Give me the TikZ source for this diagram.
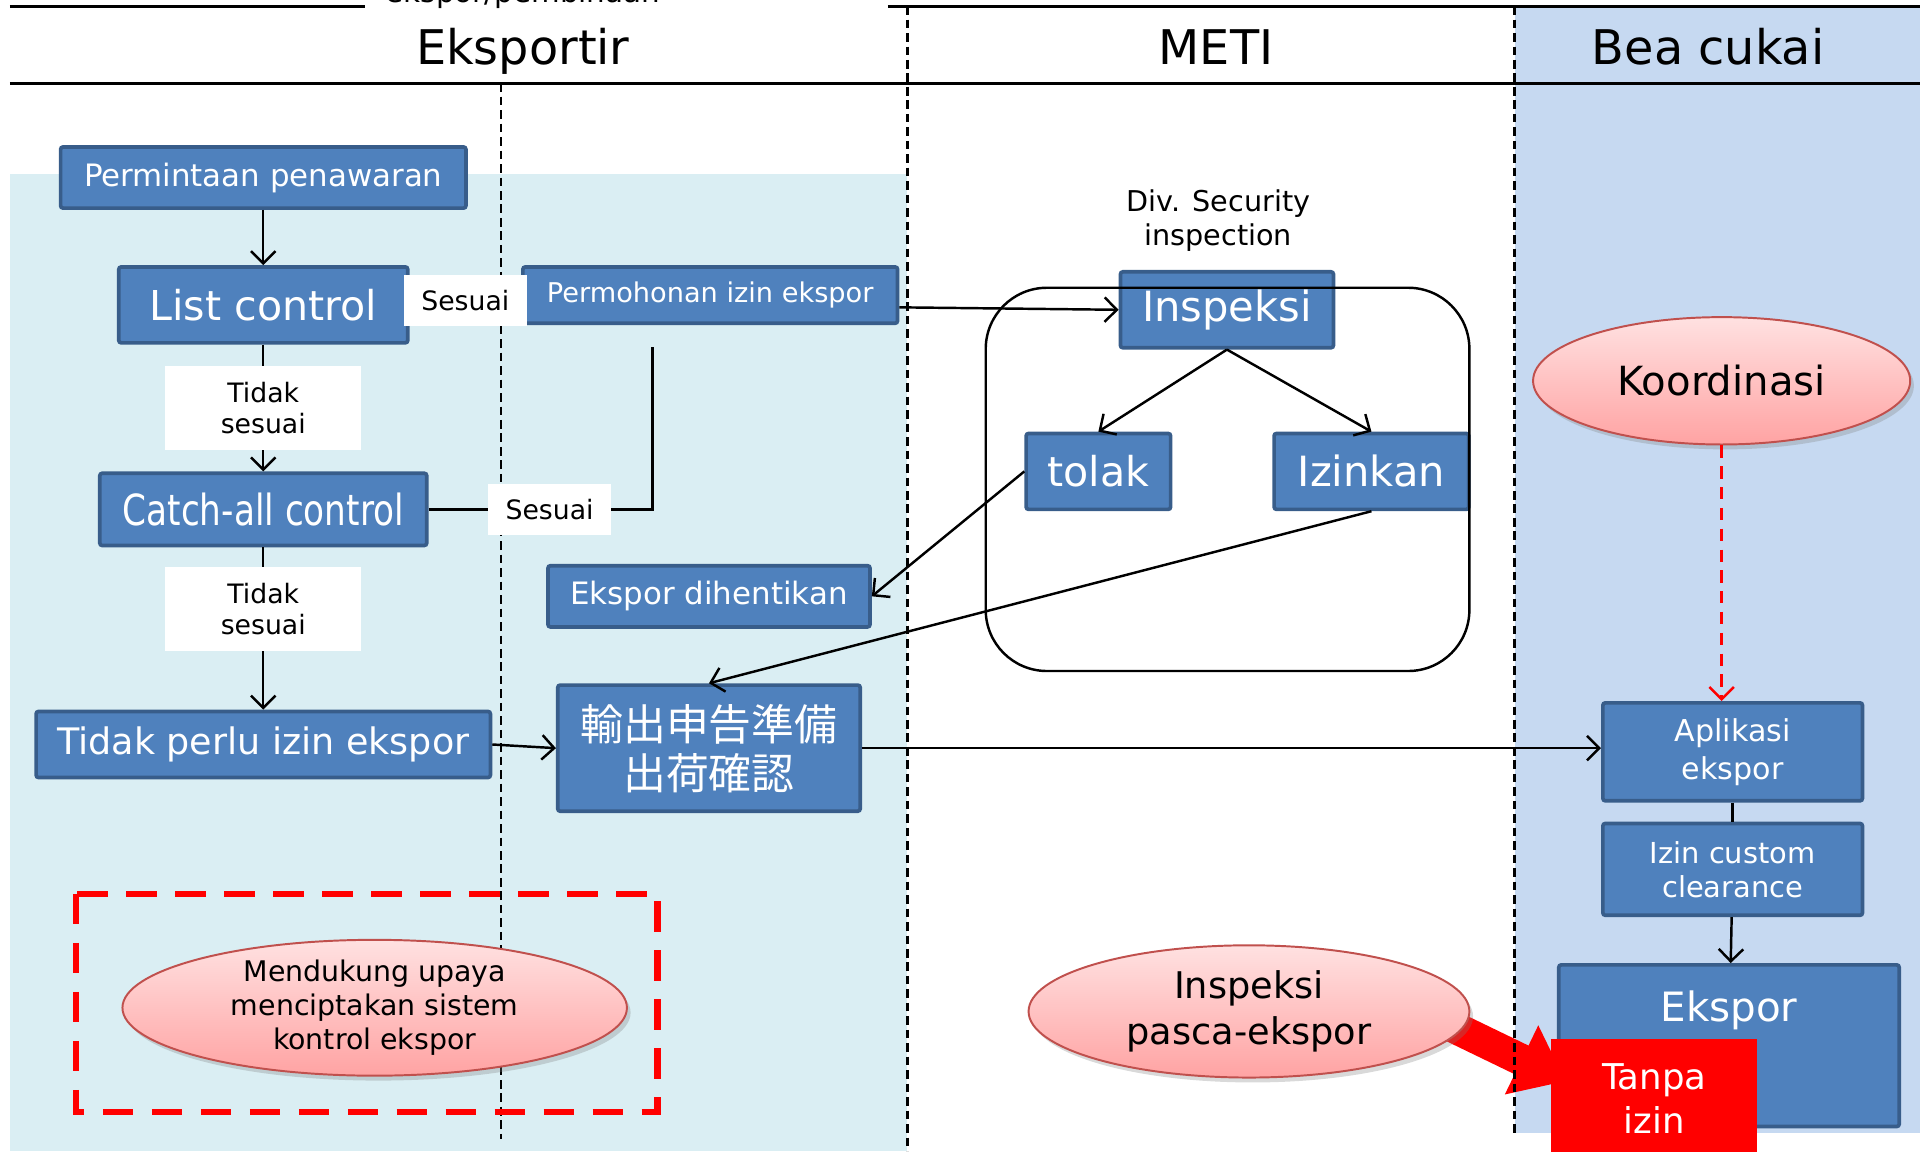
\documentclass[tikz,border=0pt]{standalone}
\usepackage{fontspec}
\setmainfont{DejaVu Sans}
\newfontfamily\condfont[FakeStretch=0.8]{DejaVu Sans}
\newfontfamily\cjkfont{Noto Sans CJK JP}
\usetikzlibrary{arrows.meta,shapes.geometric,shadows}

\pgfdeclarelayer{bg}
\pgfdeclarelayer{mid}
\pgfsetlayers{bg,mid,main}

\definecolor{boxblue}{HTML}{4F81BD}
\definecolor{boxedge}{HTML}{385D8A}
\definecolor{paleblue}{HTML}{DAEEF3}
\definecolor{laneblue}{HTML}{C6D9F1}
\definecolor{pinktop}{HTML}{FFE1E1}
\definecolor{pinkbot}{HTML}{FFA3A3}
\definecolor{pinkedge}{HTML}{C0504D}

\begin{document}
\begin{tikzpicture}[x=0.5pt,y=-0.5pt,>={Straight Barb[length=5pt,width=10pt]}]
\tikzstyle{box}=[draw=boxedge,fill=boxblue,line width=1.5pt,rounded corners=1pt,text=white,inner sep=0pt,align=center]
\tikzstyle{tag}=[fill=white,inner sep=0pt,align=center,font=\fontsize{10.9}{13}\selectfont]
\tikzstyle{bubble}=[ellipse,draw=pinkedge,line width=0.8pt,top color=pinktop,bottom color=pinkbot,inner sep=0pt,align=center,drop shadow={opacity=0.3,shadow xshift=1.5pt,shadow yshift=-2pt}]
\tikzstyle{link}=[draw,line width=1pt,->]
\tikzstyle{lane}=[dash pattern=on 3.5pt off 2pt,line width=1pt]
\tikzstyle{head}=[anchor=base,font=\fontsize{19.5}{23}\selectfont]
\useasboundingbox (0,0) rectangle (1568,940);

% lanes
\begin{pgfonlayer}{bg}
\fill[paleblue] (8,142) rectangle (741,940);
\fill[laneblue] (1237,5) rectangle (1568,925);
\end{pgfonlayer}
\draw[line width=1.2pt] (8,5) -- (298,5);
\draw[line width=1.2pt] (725,5) -- (1568,5);
\draw[line width=1.2pt] (8,68) -- (1568,68);
\draw[lane] (409,68) -- (409,930);
\draw[lane] (741,5) -- (741,940);
\draw[lane] (1237,5) -- (1237,925);
\node[anchor=base,font=\fontsize{12}{14}\selectfont] (sub) at (427,2) {ekspor/pembinaan};
\node[head] (h1) at (427,53) {Eksportir};
\node[head] (h2) at (993,53) {METI};
\node[head] (h3) at (1395,53) {Bea cukai};

% eksportir
\node[box,minimum width=165.5pt,minimum height=25pt,font=\fontsize{12.6}{15}\selectfont] (req) at (215,145) {Permintaan penawaran};
\node[box,minimum width=118pt,minimum height=31pt,font=\fontsize{16.8}{20}\selectfont] (lst) at (215,249) {List control};
\node[box,minimum width=153pt,minimum height=23pt,font=\fontsize{11.1}{13}\selectfont] (perm) at (580,241) {Permohonan izin ekspor};
\node[box,minimum width=133.5pt,minimum height=29.5pt,font=\condfont\fontsize{17.5}{20}\selectfont] (catch) at (215,416) {Catch-all control};
\node[box,minimum width=131.5pt,minimum height=25pt,font=\fontsize{12.6}{15}\selectfont] (stop) at (579,487) {Ekspor dihentikan};
\node[box,minimum width=185.5pt,minimum height=27pt,font=\fontsize{14.9}{18}\selectfont] (free) at (215,608) {Tidak perlu izin ekspor};
\node[box,minimum width=123.5pt,minimum height=51.5pt,font=\cjkfont\fontsize{17.5}{20}\selectfont] (prep) at (579,611) {輸出申告準備\\出荷確認};
\coordinate (back) at (533,283);

\draw[link] (req) -- (lst);
\draw[line width=1pt] (lst) -- node[tag,minimum width=50pt,minimum height=21pt] (ok1) {Sesuai} (perm);
\draw[link] (lst) -- node[tag,minimum width=80pt,minimum height=34pt] (ng1) {Tidak\\sesuai} (catch);
\draw[line width=1pt] (catch.east) -- node[tag,minimum width=50.5pt,minimum height=21pt,pos=0.54] (ok2) {Sesuai} (catch.east -| back) -- (back);
\draw[link] (catch) -- node[tag,minimum width=80pt,minimum height=34pt,pos=0.38] (ng2) {Tidak\\sesuai} (free);
\draw[link] (free.east) -- (prep.west);

\draw[red,line width=2.5pt,dash pattern=on 12.5pt off 7.5pt] (62,730) rectangle (537,908);
\node[bubble,minimum width=206pt,minimum height=54pt,font=\fontsize{11.6}{14}\selectfont] (aim) at (306,823) {Mendukung upaya\\menciptakan sistem\\kontrol ekspor};

% meti
\node[align=center,font=\fontsize{11.7}{14}\selectfont] (div) at (995,180) {Div. Security\\inspection};
\node[box,minimum width=87pt,minimum height=31pt,font=\fontsize{17}{20}\selectfont] (insp) at (1002,253) {Inspeksi};
\node[box,minimum width=59pt,minimum height=31pt,font=\fontsize{16.8}{20}\selectfont] (tolak) at (897,385) {tolak};
\node[box,minimum width=79.5pt,minimum height=31pt,font=\fontsize{17}{20}\selectfont] (izin) at (1120,385) {Izinkan};
\draw[line width=1pt,rounded corners=25pt] (805,235) rectangle (1200,548);

\draw[link] ([yshift=-5pt]perm.east) -- (insp.west);
\draw[link] (insp.south) -- (tolak.north);
\draw[link] (insp.south) -- (izin.north);
\draw[link] (tolak.west) -- (stop.east);
\draw[link] (izin.south) -- (prep.north);

\node[bubble,minimum width=180pt,minimum height=54pt,font=\fontsize{15}{18.5}\selectfont] (pasca) at (1020,826) {Inspeksi\\pasca-ekspor};

% bea cukai
\node[bubble,minimum width=154pt,minimum height=52pt,font=\fontsize{16.4}{20}\selectfont] (koor) at (1406,311) {Koordinasi};
\node[box,minimum width=106pt,minimum height=40pt,font=\fontsize{12.3}{15.5}\selectfont] (apl) at (1415,614) {Aplikasi\\ekspor};
\node[box,minimum width=106pt,minimum height=37.5pt,font=\fontsize{11.8}{14}\selectfont] (ccl) at (1415,710) {Izin custom\\clearance};
\node[box,minimum width=139pt,minimum height=66pt,text height=12pt,text depth=32pt,font=\fontsize{16.5}{20}\selectfont] (ekspor) at (1412,854) {Ekspor};
\node[fill=red,text=white,minimum width=84pt,minimum height=48.5pt,inner sep=0pt,align=center,font=\fontsize{14.5}{18}\selectfont] (tanpa) at (1351,897) {Tanpa\\izin};

\draw[link] (prep.east) -- (prep.east -| apl.west);
\draw[link,red,dash pattern=on 5pt off 3.5pt] (koor.south) -- (koor.south |- apl.north);
\draw[line width=1pt] (apl) -- (ccl);
\draw[link] (ccl) -- (ekspor);

\begin{pgfonlayer}{mid}
\draw[red,line width=13pt,-{Triangle[length=20pt,width=30pt]}] ([xshift=-20pt]pasca.east) -- ([xshift=6pt,yshift=7pt]tanpa.west);
\end{pgfonlayer}
\end{tikzpicture}
\end{document}
